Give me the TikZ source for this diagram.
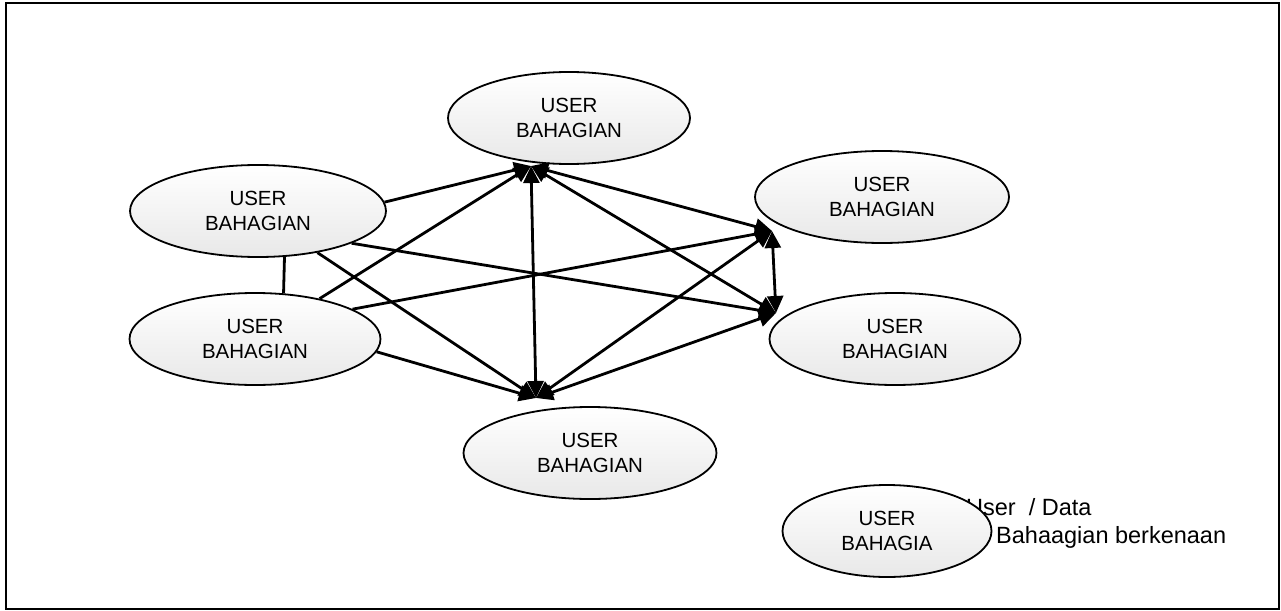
\documentclass[tikz,border=0pt]{standalone}
\usepackage{fontspec}
\setmainfont{Liberation Sans}
\usetikzlibrary{shapes.geometric,arrows.meta}
\tikzset{
userbox/.style={ellipse, draw=black, line width=1.8pt, top color=white, bottom color=black!9, inner sep=0pt,
  minimum height=92pt, align=center, font=\fontsize{20.5}{25}\selectfont},
legtext/.style={anchor=base west, inner sep=0pt, font=\fontsize{23.5}{27}\selectfont},
link/.style={line width=2.8pt},
arr/.style={link, -{Triangle[length=17pt,width=16pt]}},
dbl/.style={link, {Triangle[length=17pt,width=16pt]}-{Triangle[length=17pt,width=16pt]}}
}
\begin{document}
\begin{tikzpicture}[x=1pt,y=-1pt]
\useasboundingbox (0,0) rectangle (1281,610);
\draw[line width=1.6pt] (6,3) rectangle (1279,609);
\node[userbox, minimum width=242pt] (top) at (569,118) {USER\\BAHAGIAN};
\node[userbox, minimum width=256pt] (lup) at (258,211) {USER\\BAHAGIAN};
\node[userbox, minimum width=251pt] (llo) at (255,339) {USER\\BAHAGIAN};
\node[userbox, minimum width=254pt] (rup) at (882,197) {USER\\BAHAGIAN};
\node[userbox, minimum width=251pt] (rlo) at (895,339) {USER\\BAHAGIAN};
\node[userbox, minimum width=253pt] (bot) at (590,453) {USER\\BAHAGIAN};
\coordinate (thub) at (531,166);
\coordinate (bhub) at (536,398);
\coordinate (ruhub) at (772,231);
\coordinate (rlhub) at (776,313);
\draw[link] (lup.-60) -- (llo.58);
\draw[arr] (lup.4) -- (thub);
\draw[arr] (lup.-19) -- (rlhub);
\draw[arr] (lup.-35) -- (bhub);
\draw[arr] (llo.32) -- (thub);
\draw[arr] (llo.17) -- (ruhub);
\draw[arr] (llo.-6) -- (bhub);
\draw[dbl] (bhub) -- (thub);
\draw[dbl] (thub) -- (ruhub);
\draw[dbl] (thub) -- (rlhub);
\draw[dbl] (bhub) -- (ruhub);
\draw[dbl] (bhub) -- (rlhub);
\draw[dbl] (ruhub) -- (rlhub);
\node[legtext] (legone) at (966,515) {User\ \ / Data};
\node[legtext] (legtwo) at (996,543) {Bahaagian berkenaan};
\node[userbox, minimum width=209pt] (leg) at (887,531) {USER\\BAHAGIA};
\end{tikzpicture}
\end{document}
